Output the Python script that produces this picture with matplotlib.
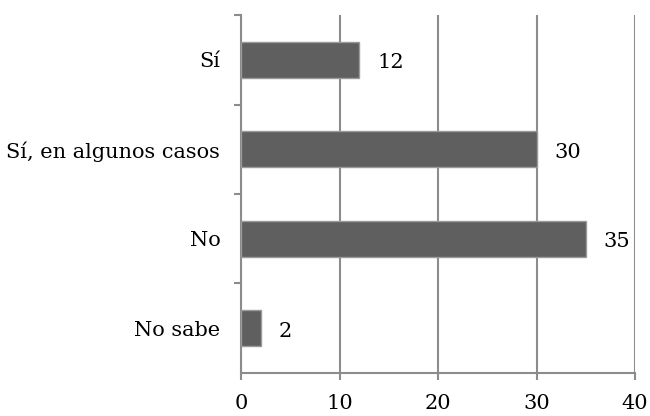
import matplotlib
matplotlib.use("Agg")
import matplotlib.pyplot as plt

# categories top to bottom, as in the chart
categories = ["Sí", "Sí, en algunos casos", "No", "No sabe"]
values = [12, 30, 35, 2]
x_ticks = [0, 10, 20, 30, 40]

plt.rcParams["font.family"] = ["DejaVu Serif"]
fs = 15

fig = plt.figure(figsize=(6.5, 4.16), dpi=100)
ax = fig.add_axes([0.371, 0.1034, 0.606, 0.8605])

grid_col = "#8c8c8c"
pos = list(range(len(categories)))[::-1]
ax.barh(pos, values, height=0.4, color="#5f5f5f",
        edgecolor="#9a9a9a", linewidth=1.0, zorder=3)

for y, v in zip(pos, values):
    ax.annotate(str(v), (v, y), xytext=(13, -2), textcoords="offset points",
                va="center", ha="left", fontsize=fs)

ax.set_xlim(0, 40)
ax.set_ylim(-0.5, len(categories) - 0.5)
ax.set_xticks(x_ticks)
ax.set_xticklabels([str(t) for t in x_ticks], fontsize=fs)
ax.tick_params(axis="x", length=5, width=1.5, color=grid_col, pad=10)

# category labels centered, tick marks at the boundaries
ax.set_yticks(pos)
ax.set_yticklabels(categories, fontsize=fs)
ax.tick_params(axis="y", which="major", length=0, pad=15)
ax.set_yticks([p + 0.5 for p in range(len(categories))], minor=True)
ax.tick_params(axis="y", which="minor", length=5, width=1.5, color=grid_col)

ax.grid(axis="x", color=grid_col, linewidth=1.5, zorder=0)
for s in ["top", "right"]:
    ax.spines[s].set_visible(False)
for s in ["left", "bottom"]:
    ax.spines[s].set_color(grid_col)
    ax.spines[s].set_linewidth(1.5)

fig.savefig("out.png", dpi=100)
